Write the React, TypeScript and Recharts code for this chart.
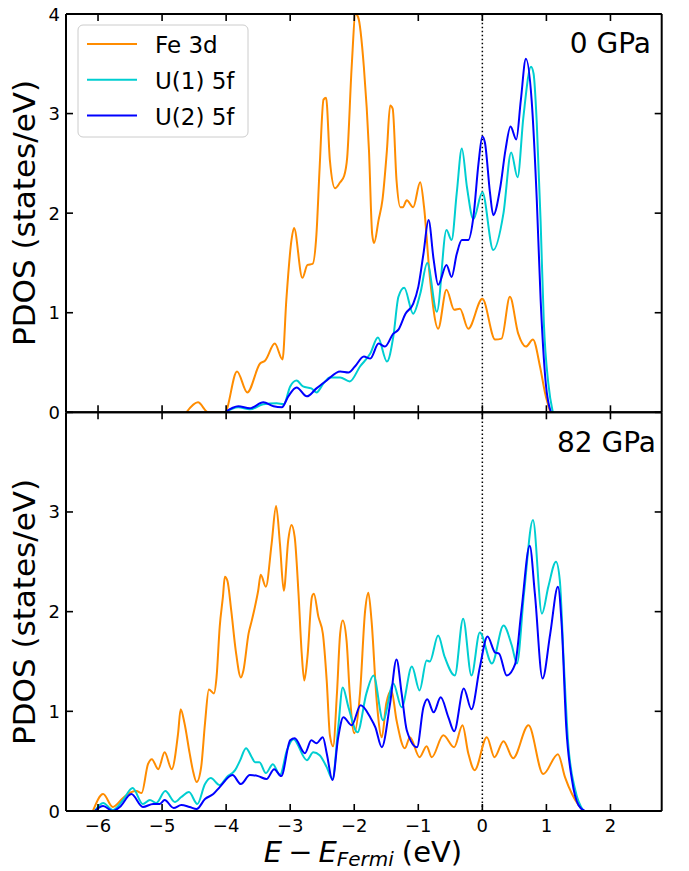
import React from 'react';
import { LineChart, Line, XAxis, YAxis, ReferenceLine } from 'recharts';

// ---- top panel, 0 GPa ----
const feTopE = [-4.62, -4.44, -4.28, -4.02, -3.83, -3.67, -3.47, -3.39, -3.24, -3.12, -3.06, -2.98, -2.94, -2.81, -2.73, -2.65, -2.59, -2.54, -2.48, -2.44, -2.38, -2.30, -2.22, -2.16, -2.11, -2.04, -1.98, -1.94, -1.85, -1.77, -1.72, -1.69, -1.62, -1.56, -1.49, -1.44, -1.40, -1.34, -1.28, -1.24, -1.18, -1.08, -0.97, -0.91, -0.82, -0.69, -0.56, -0.44, -0.35, -0.22, 0.0, 0.20, 0.30, 0.43, 0.56, 0.68, 0.79, 0.90, 0.98, 1.06];
const feTopV = [0, 0.10, 0, 0, 0.41, 0.20, 0.49, 0.52, 0.69, 0.53, 1.13, 1.73, 1.85, 1.35, 1.48, 1.49, 1.79, 2.46, 3.14, 3.16, 2.53, 2.25, 2.31, 2.37, 2.56, 3.47, 4.0, 3.97, 3.47, 2.63, 1.79, 1.70, 1.93, 2.13, 2.63, 3.08, 3.05, 2.33, 2.06, 2.06, 2.13, 2.06, 2.31, 2.06, 1.36, 0.84, 1.23, 1.03, 1.04, 0.84, 1.14, 0.73, 0.74, 1.16, 0.79, 0.66, 0.73, 0.46, 0.19, 0];

const u1TopE = [-4.02, -3.81, -3.63, -3.42, -3.21, -3.10, -3.00, -2.90, -2.80, -2.67, -2.59, -2.48, -2.38, -2.22, -2.07, -1.91, -1.75, -1.63, -1.49, -1.39, -1.31, -1.22, -1.08, -0.97, -0.86, -0.71, -0.56, -0.48, -0.40, -0.32, -0.24, -0.14, 0.0, 0.17, 0.33, 0.45, 0.55, 0.64, 0.76, 0.80, 0.85, 0.91, 0.96, 1.03, 1.10];
const u1TopV = [0, 0.05, 0.03, 0.08, 0.09, 0.08, 0.26, 0.32, 0.26, 0.24, 0.20, 0.29, 0.35, 0.35, 0.31, 0.46, 0.59, 0.75, 0.51, 0.76, 1.16, 1.25, 0.99, 1.19, 1.50, 1.01, 1.83, 1.73, 2.2, 2.65, 2.26, 1.94, 2.21, 1.63, 2.0, 2.61, 2.36, 2.96, 3.47, 3.40, 2.9, 1.91, 0.9, 0.29, 0];

const u2TopE = [-4.02, -3.81, -3.63, -3.42, -3.26, -3.13, -3.03, -2.90, -2.74, -2.59, -2.43, -2.22, -2.09, -1.99, -1.85, -1.75, -1.62, -1.52, -1.39, -1.31, -1.20, -1.08, -1.00, -0.92, -0.84, -0.76, -0.69, -0.56, -0.48, -0.40, -0.32, -0.22, -0.14, -0.06, 0.0, 0.04, 0.12, 0.17, 0.28, 0.36, 0.44, 0.53, 0.60, 0.68, 0.77, 0.85, 0.91, 0.99, 1.07];
const u2TopV = [0, 0.06, 0.04, 0.10, 0.06, 0.05, 0.16, 0.25, 0.16, 0.24, 0.32, 0.41, 0.40, 0.46, 0.56, 0.54, 0.69, 0.66, 0.79, 0.83, 0.99, 1.09, 1.26, 1.59, 1.93, 1.53, 1.28, 1.48, 1.36, 1.59, 1.73, 1.73, 1.96, 2.50, 2.77, 2.71, 2.2, 1.98, 2.26, 2.63, 2.87, 2.74, 3.13, 3.55, 3.13, 2.13, 1.13, 0.29, 0];

// ---- bottom panel, 82 GPa ----
const feBotE = [-6.08, -5.92, -5.77, -5.61, -5.48, -5.40, -5.32, -5.22, -5.16, -5.06, -4.96, -4.85, -4.75, -4.71, -4.65, -4.57, -4.52, -4.46, -4.39, -4.33, -4.27, -4.19, -4.15, -4.10, -4.05, -4.02, -3.98, -3.92, -3.85, -3.77, -3.73, -3.65, -3.60, -3.55, -3.50, -3.46, -3.38, -3.29, -3.22, -3.16, -3.10, -3.03, -2.98, -2.93, -2.87, -2.82, -2.78, -2.73, -2.66, -2.63, -2.56, -2.49, -2.43, -2.38, -2.33, -2.27, -2.22, -2.18, -2.12, -2.07, -2.00, -1.91, -1.83, -1.78, -1.73, -1.65, -1.57, -1.50, -1.42, -1.34, -1.21, -1.13, -0.98, -0.87, -0.79, -0.61, -0.44, -0.31, -0.22, -0.12, 0.07, 0.19, 0.33, 0.48, 0.72, 0.95, 1.18, 1.29, 1.40, 1.50, 1.58];
const feBotV = [0, 0.17, 0.04, 0.13, 0.19, 0.20, 0.18, 0.47, 0.52, 0.42, 0.59, 0.42, 0.78, 1.02, 0.88, 0.58, 0.41, 0.29, 0.44, 0.88, 1.22, 1.18, 1.34, 1.85, 2.15, 2.35, 2.31, 2.01, 1.61, 1.34, 1.41, 1.78, 1.91, 2.05, 2.21, 2.37, 2.25, 2.68, 3.06, 2.68, 2.21, 2.72, 2.87, 2.75, 2.18, 1.58, 1.31, 1.55, 2.15, 2.18, 1.95, 1.78, 1.31, 0.76, 0.65, 1.18, 1.78, 1.91, 1.71, 1.18, 0.78, 1.18, 2.01, 2.19, 1.91, 1.11, 0.74, 1.08, 1.21, 0.91, 0.63, 0.74, 0.54, 0.65, 0.54, 0.76, 0.64, 0.86, 0.58, 0.41, 0.74, 0.54, 0.70, 0.53, 0.86, 0.37, 0.57, 0.34, 0.17, 0.06, 0];

const u1BotE = [-6.05, -5.92, -5.77, -5.61, -5.46, -5.30, -5.19, -5.09, -4.95, -4.80, -4.70, -4.58, -4.45, -4.33, -4.24, -4.10, -3.99, -3.86, -3.78, -3.69, -3.60, -3.55, -3.48, -3.38, -3.27, -3.16, -3.05, -2.95, -2.74, -2.64, -2.54, -2.43, -2.34, -2.25, -2.18, -2.09, -1.95, -1.81, -1.70, -1.55, -1.39, -1.26, -1.10, -0.98, -0.87, -0.82, -0.69, -0.59, -0.43, -0.30, -0.17, -0.04, 0.15, 0.33, 0.46, 0.54, 0.65, 0.79, 0.93, 1.03, 1.15, 1.21, 1.27, 1.34, 1.45, 1.58];
const u1BotV = [0, 0.08, 0.01, 0.11, 0.23, 0.07, 0.11, 0.08, 0.20, 0.09, 0.14, 0.19, 0.07, 0.27, 0.33, 0.26, 0.34, 0.41, 0.51, 0.63, 0.54, 0.49, 0.49, 0.38, 0.47, 0.36, 0.61, 0.72, 0.51, 0.59, 0.56, 0.44, 0.32, 0.84, 1.24, 1.04, 0.79, 1.18, 1.36, 0.91, 1.28, 1.04, 1.45, 1.21, 1.51, 1.50, 1.76, 1.55, 1.36, 1.93, 1.36, 1.79, 1.48, 1.86, 1.66, 1.48, 2.18, 2.92, 1.98, 2.25, 2.50, 2.31, 1.51, 0.68, 0.21, 0];

const u2BotE = [-6.05, -5.92, -5.77, -5.66, -5.48, -5.30, -5.14, -5.04, -4.96, -4.82, -4.70, -4.57, -4.46, -4.33, -4.20, -4.10, -3.90, -3.77, -3.63, -3.50, -3.37, -3.25, -3.14, -3.00, -2.93, -2.77, -2.67, -2.59, -2.49, -2.43, -2.34, -2.25, -2.17, -2.04, -1.90, -1.75, -1.67, -1.57, -1.44, -1.34, -1.26, -1.18, -1.02, -0.92, -0.86, -0.76, -0.65, -0.53, -0.44, -0.29, -0.17, -0.04, 0.08, 0.20, 0.26, 0.38, 0.51, 0.61, 0.74, 0.82, 0.94, 1.06, 1.18, 1.24, 1.31, 1.40, 1.50, 1.60];
const u2BotV = [0, 0.05, 0, 0.04, 0.17, 0.04, 0.07, 0.07, 0.11, 0.03, 0.06, 0.04, 0.02, 0.12, 0.17, 0.24, 0.36, 0.27, 0.36, 0.35, 0.32, 0.42, 0.35, 0.71, 0.73, 0.58, 0.71, 0.68, 0.74, 0.58, 0.31, 0.74, 0.94, 0.86, 1.06, 0.94, 0.84, 0.64, 1.08, 1.52, 1.18, 0.81, 0.64, 1.04, 1.12, 0.99, 1.14, 0.94, 0.80, 1.23, 1.02, 1.44, 1.75, 1.59, 1.58, 1.36, 1.47, 2.01, 2.66, 2.18, 1.33, 1.78, 2.25, 1.85, 0.84, 0.31, 0.06, 0];

const seriesNames = ['Fe 3d', 'U(1) 5f', 'U(2) 5f'];
const seriesColors = ['#ff8c00', '#00ced1', '#0000ff'];
const xTicks = [-6, -5, -4, -3, -2, -1, 0, 1, 2];
const yTicks = [0, 1, 2, 3, 4];
const pressureLabels = ['0 GPa', '82 GPa'];

const zip = (e: number[], v: number[]) => e.map((x, i) => ({ e: x, v: v[i] }));

const panels = [
  { label: pressureLabels[0], series: [zip(feTopE, feTopV), zip(u1TopE, u1TopV), zip(u2TopE, u2TopV)] },
  { label: pressureLabels[1], series: [zip(feBotE, feBotV), zip(u1BotE, u1BotV), zip(u2BotE, u2BotV)] },
];

const W = 689;
const H = 871;
const LEFT = 66;
const RIGHT = 27.3;
const TOP0 = 14;
const MID = 412.3;
const BOT = 811;
const AX = 1; // size given to each axis band
const FONT = '"DejaVu Sans", sans-serif';

const fmt = (v: number) => (v < 0 ? '\u2212' + Math.abs(v) : String(v));

// inward ticks, drawn from the axis line (tickSize and tickMargin are 0)
const xTick = (dir: number, label: boolean) => (p: any) => (
  <g>
    <line x1={p.x} x2={p.x} y1={p.y} y2={p.y + dir * 7} stroke="#000" strokeWidth={1.6} />
    {label && (
      <text x={p.x} y={p.y + 20.5} textAnchor="middle" fontSize={18} fontFamily={FONT} fill="#000">
        {fmt(p.payload.value)}
      </text>
    )}
  </g>
);

const yTick = (dir: number, label: boolean, skipTop: boolean) => (p: any) => (
  <g>
    <line x1={p.x} x2={p.x + dir * 7} y1={p.y} y2={p.y} stroke="#000" strokeWidth={1.6} />
    {label && !(skipTop && p.payload.value === 4) && (
      <text x={p.x - 6} y={p.y + 6.5} textAnchor="end" fontSize={18} fontFamily={FONT} fill="#000">
        {fmt(p.payload.value)}
      </text>
    )}
  </g>
);

const Panel = ({ idx }: { idx: number }) => {
  const top = idx === 0;
  const y0 = top ? TOP0 : MID;
  const y1 = top ? MID : BOT;
  const margin = { top: y0 - AX, bottom: H - y1 - AX, left: LEFT - AX, right: RIGHT - AX };
  const p = panels[idx];
  return (
    <div style={{ position: 'absolute', left: 0, top: 0 }}>
      <LineChart width={W} height={H} margin={margin}>
        <XAxis
          dataKey="e" type="number" domain={[-6.5, 2.8]} ticks={xTicks} allowDataOverflow interval={0}
          height={AX} tickSize={0} tickMargin={0} tickLine={false}
          axisLine={{ stroke: '#000', strokeWidth: 2 }}
          tick={xTick(-1, !top)}
        />
        <XAxis
          xAxisId="t" orientation="top" dataKey="e" type="number" domain={[-6.5, 2.8]} ticks={xTicks}
          allowDataOverflow interval={0} height={AX} tickSize={0} tickMargin={0} tickLine={false}
          axisLine={{ stroke: '#000', strokeWidth: 2 }}
          tick={xTick(1, false)}
        />
        <YAxis
          type="number" domain={[0, 4]} ticks={yTicks} allowDataOverflow interval={0}
          width={AX} tickSize={0} tickMargin={0} tickLine={false}
          axisLine={{ stroke: '#000', strokeWidth: 2 }}
          tick={yTick(1, true, !top)}
        />
        <YAxis
          yAxisId="r" orientation="right" type="number" domain={[0, 4]} ticks={yTicks} allowDataOverflow
          interval={0} width={AX} tickSize={0} tickMargin={0} tickLine={false}
          axisLine={{ stroke: '#000', strokeWidth: 2 }}
          tick={yTick(-1, false, false)}
        />
        <ReferenceLine x={0} stroke="#000" strokeWidth={1.5} strokeDasharray="1.5 2.5" />
        {p.series.map((d, i) => (
          <Line
            key={seriesNames[i]} data={d} dataKey="v" name={seriesNames[i]} type="monotone"
            stroke={seriesColors[i]} strokeWidth={2} dot={false} isAnimationActive={false}
          />
        ))}
      </LineChart>
    </div>
  );
};

const Overlay = () => (
  <svg width={W} height={H} style={{ position: 'absolute', left: 0, top: 0, pointerEvents: 'none' }} fontFamily={FONT}>
    {/* legend */}
    <rect x={78} y={25} width={170} height={112} rx={5} fill="#fff" fillOpacity={0.8} stroke="#cccccc" strokeWidth={1} />
    {seriesNames.map((n, i) => (
      <g key={n}>
        <line x1={87} x2={137} y1={44 + i * 35.7} y2={44 + i * 35.7} stroke={seriesColors[i]} strokeWidth={2} />
        <text x={155} y={53.3 + i * 35.8} fontSize={23} fill="#000">{n}</text>
      </g>
    ))}
    {/* panel labels */}
    <text x={651} y={53.3} textAnchor="end" fontSize={28} fill="#000">{panels[0].label}</text>
    <text x={656} y={451.7} textAnchor="end" fontSize={28} fill="#000">{panels[1].label}</text>
    {/* y labels */}
    <text transform="translate(35,213) rotate(-90)" textAnchor="middle" fontSize={31} fill="#000">PDOS (states/eV)</text>
    <text transform="translate(35,612) rotate(-90)" textAnchor="middle" fontSize={31} fill="#000">PDOS (states/eV)</text>
    {/* x label */}
    <text x={363} y={862} textAnchor="middle" fontSize={29} fill="#000">
      <tspan fontStyle="italic">E</tspan>
      <tspan dx={6}>{'\u2212'}</tspan>
      <tspan dx={6} fontStyle="italic">E</tspan>
      <tspan fontStyle="italic" fontSize={20} dy={4}>Fermi</tspan>
      <tspan dy={-4} dx={8}>(eV)</tspan>
    </text>
  </svg>
);

export default function App() {
  return (
    <div style={{ position: 'absolute', left: 0, top: 0, width: W, height: H, background: '#fff', fontFamily: FONT }}>
      <Panel idx={0} />
      <Panel idx={1} />
      <Overlay />
    </div>
  );
}
